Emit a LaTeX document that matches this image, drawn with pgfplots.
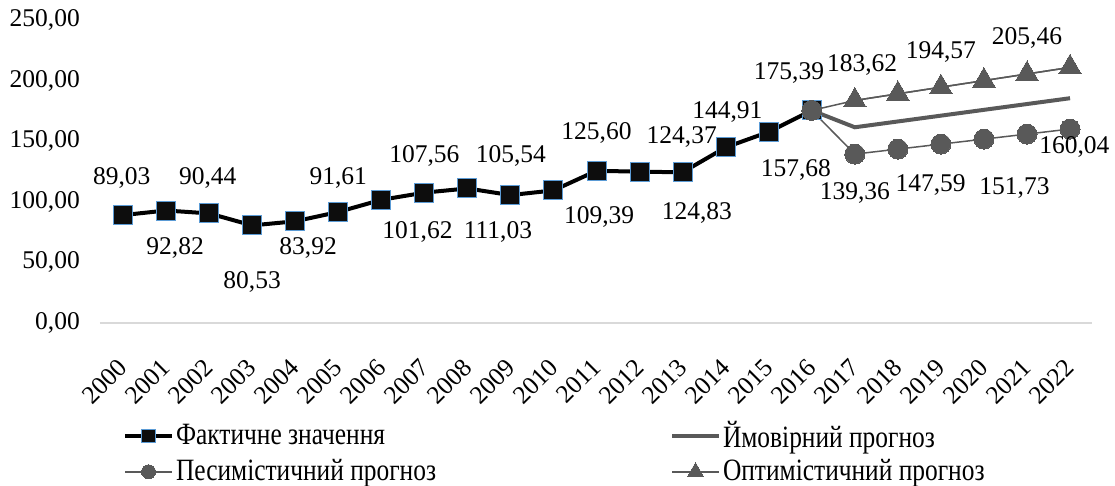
\documentclass[border=0pt]{standalone}
\usepackage{fontspec}
\setmainfont{Liberation Serif}
\newfontfamily\legfont[FakeStretch=0.82]{Liberation Serif}
\usepackage{pgfplots}
\pgfplotsset{compat=1.18}
\usepackage{pgfplotstable}
\definecolor{fgray}{HTML}{595959}
\definecolor{mblue}{HTML}{5B9BD5}
\definecolor{axgray}{HTML}{D9D9D9}
\definecolor{sqfill}{HTML}{0D0D0D}

\pgfplotstableread{
x y
0 89.03
1 92.82
2 90.44
3 80.53
4 83.92
5 91.61
6 101.62
7 107.56
8 111.03
9 105.54
10 109.39
11 125.60
12 124.83
13 124.37
14 144.91
15 157.68
16 175.39
}\actual

\pgfplotstableread{
x y
16 175.39
17 161.49
18 166.29
19 171.08
20 175.88
21 180.67
22 185.47
}\prob

\pgfplotstableread{
x y
16 175.39
17 139.36
18 143.48
19 147.59
20 151.73
21 155.88
22 160.04
}\pess

\pgfplotstableread{
x y
16 175.39
17 183.62
18 189.10
19 194.57
20 200.02
21 205.46
22 210.90
}\optim

\pgfplotstableread{
x y
17 183.62
18 189.10
19 194.57
20 200.02
21 205.46
22 210.90
}\optimf

% label positions (x, y in data units) and printed values
\pgfplotstableread{
x y v
-0.03 119.6 89.03
1.21 61.9 92.82
1.97 119.6 90.44
3.0 33.8 80.53
4.3 61.9 83.92
5.0 119.6 91.61
6.84 75.3 101.62
7.0 137.8 107.56
8.71 75.3 111.03
9.01 137.8 105.54
11.06 87.7 109.39
11.0 156.5 125.60
13.33 90.5 124.83
12.98 153.2 124.37
14.04 174.4 144.91
15.63 126.2 157.68
15.47 206.0 175.39
17.17 212.9 183.62
19.0 223.9 194.57
21.0 234.9 205.46
22.1 145.5 160.04
17.0 107.0 139.36
18.76 113.9 147.59
20.71 111.1 151.73
}\labels

\begin{document}
\fontsize{25.5pt}{30pt}\selectfont
\begin{tikzpicture}
\path[use as bounding box] (-100pt,-162pt) rectangle (1015pt,323pt);
\begin{axis}[
  at={(0pt,0pt)}, anchor=south west,
  scale only axis, width=992pt, height=303pt,
  xmin=-0.534, xmax=22.51, ymin=0, ymax=250,
  axis lines*=left,
  y axis line style={draw=none},
  x axis line style={axgray, line width=1.3pt},
  major tick length=0pt,
  clip=false,
  ytick={0,50,...,250},
  xtick={0,...,22},
  xticklabels={2000,2001,2002,2003,2004,2005,2006,2007,2008,2009,2010,2011,2012,2013,2014,2015,2016,2017,2018,2019,2020,2021,2022},
  /pgf/number format/assume math mode=true,
  yticklabel style={anchor=east, inner sep=0pt, xshift=-20pt, /pgf/number format/.cd, fixed, fixed zerofill, precision=2, use comma},
  xticklabel style={yshift=-40pt, rotate=45, anchor=east, inner sep=0pt},
  legend columns=2,
  legend cell align=left,
  legend style={draw=none, fill=none, at={(0.02,-0.31)}, anchor=north west,
    font=\legfont\fontsize{31pt}{34pt}\selectfont, row sep=4pt,
    nodes={inner sep=2pt}},
  legend image code/.code={\draw[mark repeat=2,mark phase=2,#1,/tikz/every mark/.append style={scale=0.7}] plot coordinates {(0pt,0pt) (23.5pt,0pt) (47pt,0pt)};},
]
\addplot[black, line width=4pt, mark=square*, mark size=9.5pt,
  mark options={fill=sqfill, draw=mblue, line width=1pt}] table[x=x,y=y] \actual;
\addlegendentry{\makebox[492pt][l]{Фактичне значення}}
\addplot[fgray, line width=4pt, mark=none] table[x=x,y=y] \prob;
\addlegendentry{Ймовірний прогноз}
\addplot[fgray, line width=1.5pt, mark=*, mark size=10pt,
  mark options={fill=fgray, draw=fgray, line width=0pt}] table[x=x,y=y] \pess;
\addlegendentry{\makebox[492pt][l]{Песимістичний прогноз}}
\addplot[fgray, line width=1.5pt, mark=none, forget plot] table[x=x,y=y] \optim;
\addplot[fgray, line width=1.5pt, mark=triangle*, mark size=13pt,
  mark options={fill=fgray, draw=fgray, line width=0pt}] table[x=x,y=y] \optimf;
\addlegendentry{Оптимістичний прогноз}
\addplot[draw=none, mark=none, forget plot, nodes near coords, point meta=explicit,
  nodes near coords style={anchor=center, text=black, inner sep=0pt,
    /pgf/number format/.cd, fixed, fixed zerofill, precision=2, use comma, assume math mode=true}]
  table[x=x, y=y, meta=v] \labels;
\end{axis}
\end{tikzpicture}
\end{document}
